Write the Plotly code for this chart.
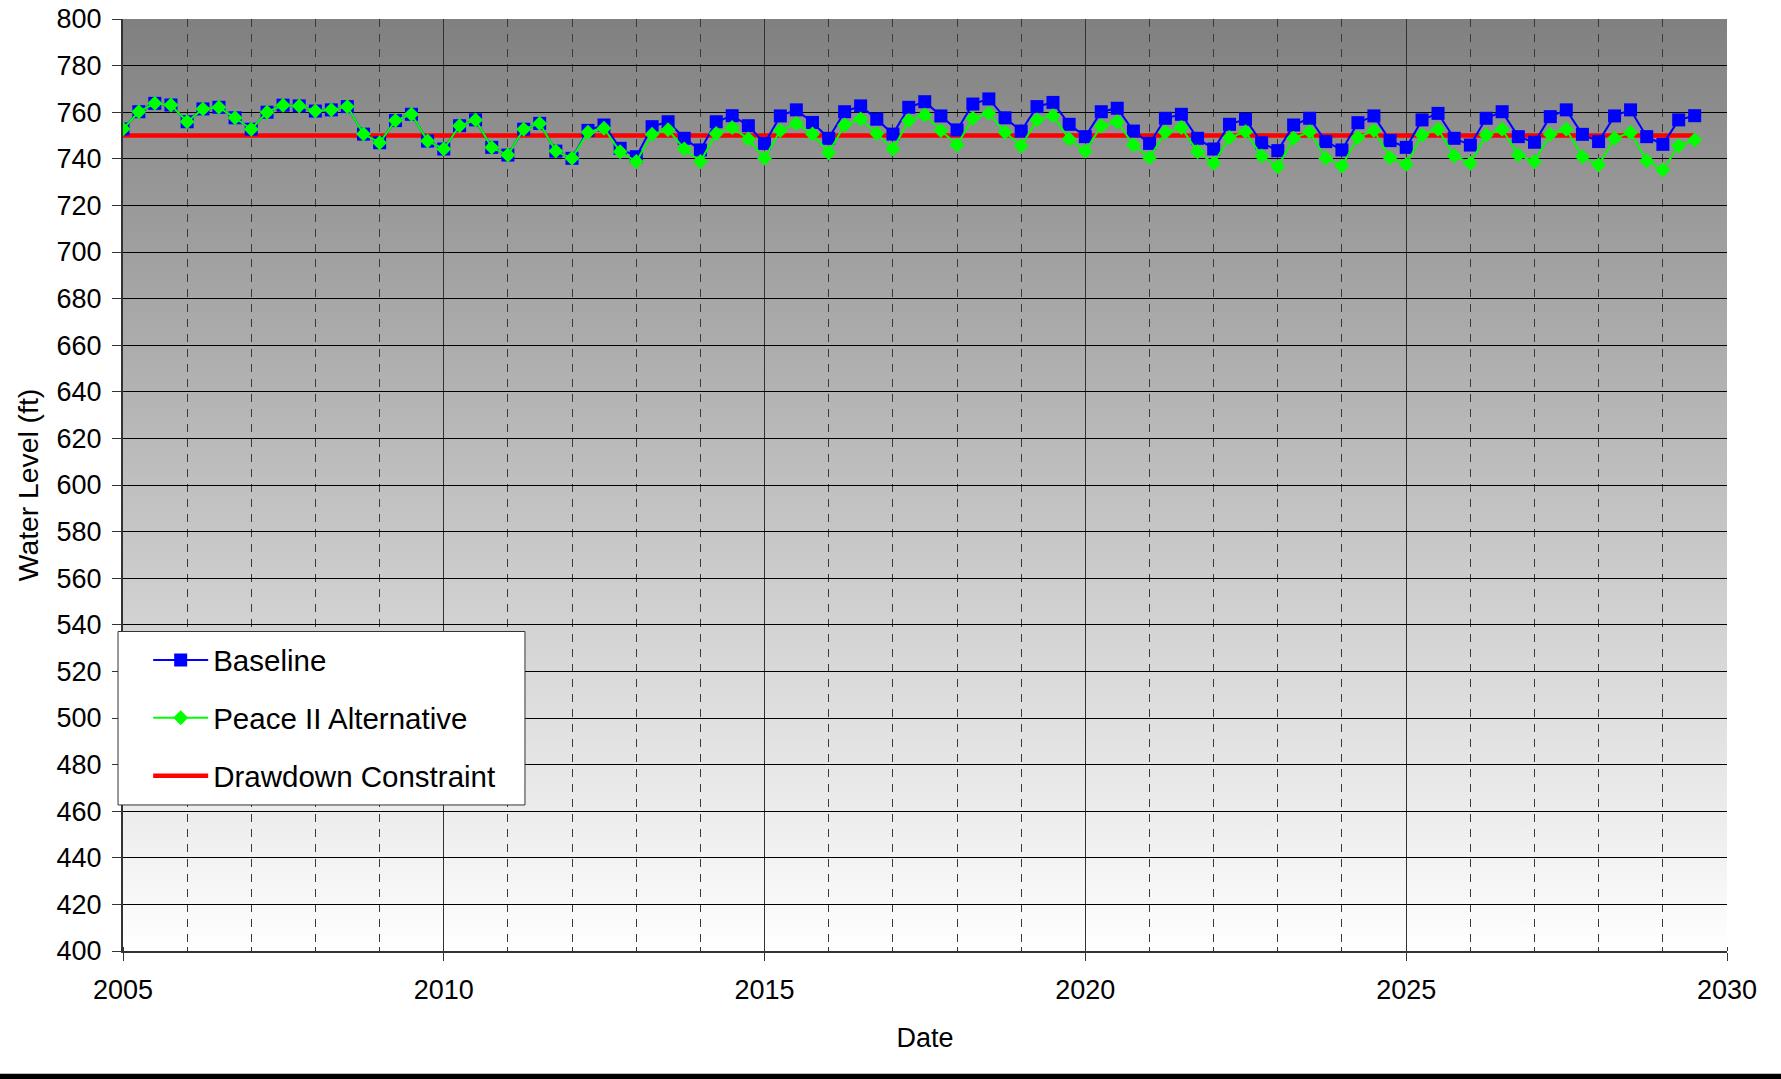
import base64
import pandas as pd
import plotly.graph_objects as go

# Quarterly simulation dates, 2005 Q1 through 2029 Q3
dates = pd.date_range("2005-01-01", periods=99, freq="QS").strftime("%Y-%m-%d").tolist()

# Simulated water level (ft), Baseline scenario
baseline = [
    752.8, 760.2, 763.8, 763.1, 755.9, 761.4, 762.1, 757.6, 752.7, 760.0,
    763.0, 762.7, 760.5, 761.0, 762.4, 750.6, 746.9, 756.4, 759.1, 747.6,
    744.2, 754.2, 756.7, 744.9, 741.6, 752.7, 755.2, 743.3, 740.2, 752.2,
    754.5, 744.5, 740.9, 753.8, 755.9, 748.8, 743.8, 755.9, 758.5, 754.2,
    746.6, 758.4, 761.0, 755.6, 748.8, 760.2, 762.7, 757.0, 750.6, 762.1,
    764.5, 758.4, 752.4, 763.5, 765.7, 757.6, 751.9, 762.4, 764.2, 754.8,
    749.5, 760.2, 761.7, 751.9, 746.6, 757.4, 759.1, 748.8, 744.2, 754.8,
    757.0, 746.9, 743.5, 754.5, 757.4, 747.4, 743.8, 755.5, 758.4, 747.8,
    744.9, 756.7, 759.5, 748.8, 745.9, 757.4, 760.2, 749.5, 747.1, 758.1,
    761.0, 750.5, 747.4, 758.4, 761.0, 749.5, 746.2, 756.7, 758.5,
]

# Simulated water level (ft), Peace II Alternative
peace2 = [
    752.8, 760.2, 763.8, 763.1, 755.9, 761.4, 762.1, 757.6, 752.7, 760.0,
    763.0, 762.7, 760.5, 761.0, 762.4, 750.6, 746.9, 756.4, 759.1, 747.6,
    744.2, 754.2, 756.7, 744.9, 741.6, 752.7, 755.2, 743.3, 740.2, 751.4,
    753.1, 743.0, 738.8, 750.5, 752.5, 744.2, 738.8, 750.9, 753.4, 748.5,
    740.2, 752.1, 755.2, 750.6, 742.6, 754.5, 757.1, 750.9, 744.2, 756.4,
    758.8, 752.1, 745.9, 757.4, 759.5, 751.4, 745.5, 756.7, 758.5, 748.5,
    743.3, 754.1, 755.9, 745.9, 740.5, 751.4, 753.4, 743.0, 738.1, 749.1,
    751.6, 741.2, 736.6, 748.8, 751.6, 740.2, 736.9, 749.2, 752.1, 740.5,
    737.6, 750.2, 752.7, 741.2, 738.1, 750.2, 752.7, 741.6, 738.8, 750.5,
    752.7, 740.9, 737.3, 748.8, 751.3, 739.2, 735.2, 745.6, 748.1,
]

# Drawdown constraint level (ft)
constraint = [750.0] * len(dates)

FONT = "Liberation Sans, Arial, sans-serif"

# Vertical grey-to-white gradient for the plotting area
svg = (
    "<svg xmlns='http://www.w3.org/2000/svg' width='10' height='100' preserveAspectRatio='none'>"
    "<defs><linearGradient id='g' x1='0' y1='0' x2='0' y2='1'>"
    "<stop offset='0' stop-color='#808080'/><stop offset='1' stop-color='#ffffff'/>"
    "</linearGradient></defs><rect width='10' height='100' fill='url(#g)'/></svg>"
)
bg_src = "data:image/svg+xml;base64," + base64.b64encode(svg.encode()).decode()

fig = go.Figure()

fig.add_trace(go.Scatter(
    x=dates, y=constraint, name="Drawdown Constraint", mode="lines",
    line=dict(color="#ff0000", width=4.5), legendrank=3, legendgroup="c",
))
fig.add_trace(go.Scatter(
    x=dates, y=baseline, name="Baseline", mode="lines+markers",
    line=dict(color="#0000ff", width=2),
    marker=dict(symbol="square", size=13, color="#0000ff"),
    legendrank=1, legendgroup="b",
))
fig.add_trace(go.Scatter(
    x=dates, y=peace2, name="Peace II Alternative", mode="lines+markers",
    line=dict(color="#00ff00", width=2),
    marker=dict(symbol="diamond", size=11.5, color="#00ff00"),
    legendrank=2, legendgroup="p",
))

fig.update_layout(
    width=1781, height=1079,
    margin=dict(l=123, r=54, t=19, b=128, autoexpand=False),
    paper_bgcolor="#ffffff", plot_bgcolor="#ffffff",
    font=dict(family=FONT, size=27, color="#000000"),
    showlegend=True,
    legend=dict(
        x=0.0157, y=0.3398, xanchor="left", yanchor="top",
        bgcolor="rgba(0,0,0,0)", borderwidth=0,
        font=dict(family=FONT, size=29.5, color="#000000"),
        tracegroupgap=16.5, itemwidth=55,
    ),
    images=[dict(
        source=bg_src, xref="paper", yref="paper", x=0, y=1,
        sizex=1, sizey=1, xanchor="left", yanchor="top",
        sizing="stretch", layer="below",
    )],
    shapes=[
        # legend frame
        dict(type="rect", xref="paper", yref="paper",
             x0=-0.0031, x1=0.2506, y0=0.1567, y1=0.3428,
             fillcolor="#ffffff", line=dict(color="#333333", width=1), layer="above"),
        # dark strip along the bottom edge
        dict(type="rect", xref="paper", yref="paper",
             x0=-0.1, x1=1.1, y0=-0.1373, y1=-0.1317,
             fillcolor="#000000", line=dict(width=0), layer="above"),
    ],
)

fig.update_xaxes(
    type="date",
    range=["2005-01-01", "2030-01-01"],
    tick0="2005-01-01", dtick="M60", tickformat="%Y",
    showgrid=True, gridcolor="#333333", gridwidth=1,
    minor=dict(dtick="M12", showgrid=True, gridcolor="#3a3a3a", gridwidth=1,
               griddash="8px,7px", ticks="inside", ticklen=4, tickcolor="#333333"),
    showline=True, linecolor="#333333", linewidth=2,
    ticks="outside", ticklen=8, tickcolor="#333333",
    ticklabelstandoff=6,
    tickfont=dict(family=FONT, size=27),
    title=dict(text="Date", font=dict(family=FONT, size=27), standoff=24),
    zeroline=False,
)

fig.update_yaxes(
    range=[400, 800], dtick=20, tick0=400,
    showgrid=True, gridcolor="#000000", gridwidth=1,
    showline=True, linecolor="#333333", linewidth=2,
    ticks="outside", ticklen=9, tickcolor="#333333",
    ticklabelstandoff=5,
    tickfont=dict(family=FONT, size=27),
    title=dict(text="Water Level (ft)", font=dict(family=FONT, size=28.3), standoff=10),
    zeroline=False,
)

fig.write_html("out.html")
